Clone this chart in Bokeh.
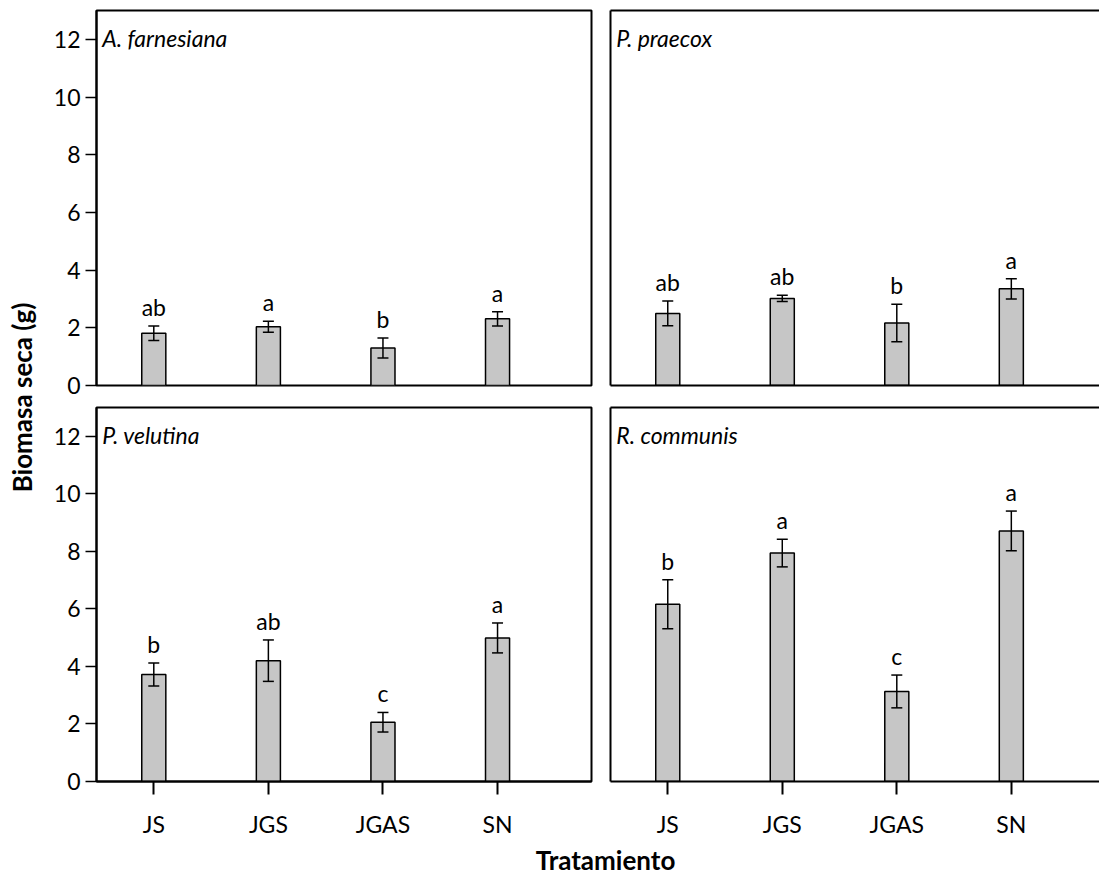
from bokeh.plotting import figure
from bokeh.models import (ColumnDataSource, Range1d, FixedTicker, Whisker, TeeHead, Label,
                          LinearAxis)
from bokeh.layouts import row, column
from bokeh.core.properties import value
from bokeh.embed import file_html
from bokeh.resources import INLINE

# ---------------- data ----------------
categories = ["JS", "JGS", "JGAS", "SN"]
species = ["A. farnesiana", "P. praecox", "P. velutina", "R. communis"]

af_mean = [1.81, 2.04, 1.30, 2.31]
af_se = [0.25, 0.19, 0.35, 0.25]
af_letters = ["ab", "a", "b", "a"]

pp_mean = [2.50, 3.02, 2.17, 3.35]
pp_se = [0.43, 0.11, 0.65, 0.35]
pp_letters = ["ab", "ab", "b", "a"]

pv_mean = [3.72, 4.20, 2.06, 4.99]
pv_se = [0.40, 0.72, 0.34, 0.52]
pv_letters = ["b", "ab", "c", "a"]

rc_mean = [6.16, 7.94, 3.13, 8.71]
rc_se = [0.85, 0.48, 0.57, 0.69]
rc_letters = ["b", "a", "c", "a"]

y_ticks = [0, 2, 4, 6, 8, 10, 12]

FONT = "Lato"
BAR_FILL = "#c6c6c6"


def frame_axis():
    return LinearAxis(ticker=FixedTicker(ticks=[]), major_label_text_font_size="0px",
                      axis_line_width=2, axis_line_color="black",
                      major_tick_out=0, major_tick_in=0,
                      minor_tick_out=0, minor_tick_in=0, major_label_standoff=0)


def make_panel(name, mean, se, letters, left, bottom):
    xs = [i + 1 for i in range(len(categories))]
    src = ColumnDataSource(dict(
        x=xs, top=mean,
        upper=[m + s for m, s in zip(mean, se)],
        lower=[m - s for m, s in zip(mean, se)],
        letter=letters,
    ))
    frame_h = 375
    if left:
        frame_w = 495
        mbl, mbr = 48, 9
        x_end = 4.82
    else:
        frame_w = 489
        mbl, mbr = 10, 0
        x_end = 4.77
    if bottom:
        mbt, mbb = 9, 58
    else:
        mbt, mbb = 10, 13
    p = figure(width=mbl + frame_w + mbr, height=mbt + frame_h + mbb,
               x_range=Range1d(0.5, x_end), y_range=Range1d(0, 13),
               output_backend="svg", toolbar_location=None,
               x_axis_location="below" if bottom else None,
               y_axis_location="left" if left else None,
               min_border_left=mbl, min_border_right=mbr,
               min_border_top=mbt, min_border_bottom=mbb)
    p.grid.visible = False
    p.background_fill_color = "white"
    p.border_fill_color = "white"

    if left:
        ax = p.left[0]
        ax.ticker = FixedTicker(ticks=y_ticks)
        ax.major_tick_out = 11
        ax.major_tick_in = 0
        ax.minor_tick_out = 0
        ax.minor_tick_in = 0
        ax.major_tick_line_width = 1.5
        ax.axis_line_width = 2
        ax.major_label_text_font = FONT
        ax.major_label_text_font_size = "23px"
        ax.major_label_text_color = "black"
        ax.major_label_standoff = 5
    if bottom:
        ax = p.below[0]
        ax.ticker = FixedTicker(ticks=xs)
        ax.major_label_overrides = {x: c for x, c in zip(xs, categories)}
        ax.major_tick_out = 13
        ax.major_tick_in = 0
        ax.minor_tick_out = 0
        ax.minor_tick_in = 0
        ax.major_tick_line_width = 2
        ax.axis_line_width = 2
        ax.major_label_text_font = FONT
        ax.major_label_text_font_size = "23px"
        ax.major_label_text_color = "black"
        ax.major_label_standoff = 15

    if left:
        p.outline_line_color = "black"
        p.outline_line_width = 2
        p.outline_line_alpha = 1
    else:
        p.outline_line_color = None
        p.add_layout(frame_axis(), "above")
        p.add_layout(frame_axis(), "left")
        if not bottom:
            p.add_layout(frame_axis(), "below")

    p.vbar(x="x", top="top", width=0.21, bottom=0, source=src,
           fill_color=BAR_FILL, line_color="black", line_width=1.5)
    w = Whisker(base="x", upper="upper", lower="lower", source=src,
                line_color="black", line_width=1.5, level="overlay",
                upper_head=TeeHead(size=11, line_color="black", line_width=1.5),
                lower_head=TeeHead(size=11, line_color="black", line_width=1.5))
    p.add_layout(w)
    p.text(x="x", y="upper", text="letter", source=src,
           text_align="center", text_baseline="bottom", y_offset=-5,
           text_font=value(FONT), text_font_size="23px", text_color="black")

    p.add_layout(Label(x=0.55, y=12.05, text=name, text_font=FONT,
                       text_font_style="italic", text_font_size="23px",
                       text_baseline="middle", text_align="left",
                       text_color="black"))
    return p


p1 = make_panel(species[0], af_mean, af_se, af_letters, left=True, bottom=False)
p2 = make_panel(species[1], pp_mean, pp_se, pp_letters, left=False, bottom=False)
p3 = make_panel(species[2], pv_mean, pv_se, pv_letters, left=True, bottom=True)
p4 = make_panel(species[3], rc_mean, rc_se, rc_letters, left=False, bottom=True)

grid_h = p1.height + p3.height

ylab = figure(width=48, height=grid_h, x_range=Range1d(0, 48), y_range=Range1d(0, grid_h),
              output_backend="svg", toolbar_location=None,
              x_axis_location=None, y_axis_location=None, min_border=0)
ylab.grid.visible = False
ylab.outline_line_color = None
ylab.add_layout(Label(x=21, y=grid_h - 397, text="Biomasa seca (g)", angle=90,
                      angle_units="deg", text_font=FONT, text_font_style="bold",
                      text_font_size="26px", text_align="center",
                      text_baseline="middle", text_color="black"))

total_w = ylab.width + p1.width + p2.width
xlab = figure(width=total_w, height=40, x_range=Range1d(0, total_w), y_range=Range1d(0, 40),
              output_backend="svg", toolbar_location=None,
              x_axis_location=None, y_axis_location=None, min_border=0)
xlab.grid.visible = False
xlab.outline_line_color = None
xlab.add_layout(Label(x=605, y=21, text="Tratamiento", text_font=FONT,
                      text_font_style="bold", text_font_size="26px",
                      text_align="center", text_baseline="middle",
                      text_color="black"))

layout = column(row(ylab, column(row(p1, p2), row(p3, p4))), xlab)

open("out.html", "w").write(file_html(layout, INLINE))
